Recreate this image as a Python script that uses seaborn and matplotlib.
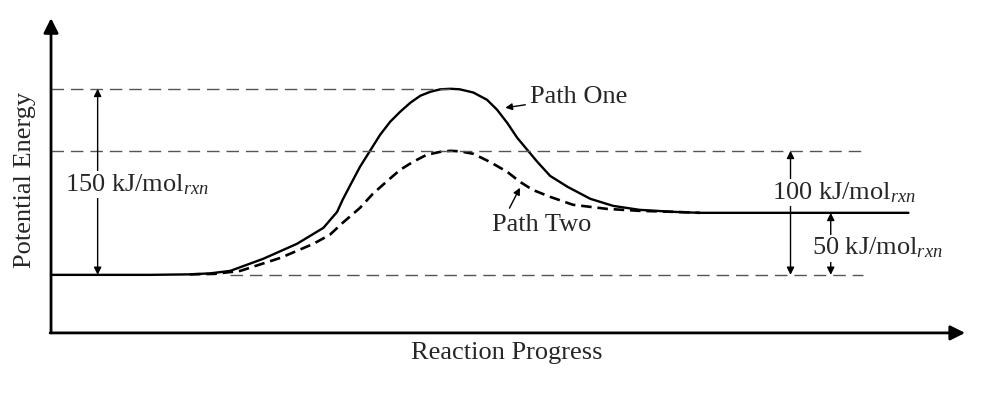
import numpy as np
import pandas as pd
import matplotlib
matplotlib.use("Agg")
import matplotlib.pyplot as plt
import seaborn as sns

#%%

# datos (x = progreso 0-100, y = kJ/mol)

path_one_x = [0, 10.8, 15.2, 17.4, 19.6, 23.2, 26.9, 29.8, 31.3, 31.9, 32.7, 33.8,
              34.9, 36.0, 37.1, 38.2, 39.3, 40.4, 41.5, 42.6, 43.7, 44.7, 46.2,
              47.7, 48.8, 49.9, 51.0, 52.1, 53.2, 54.6, 56.5, 59.0, 61.5, 64.4,
              68.1, 71.0, 93.8]
path_one_y = [0, 0, 0.4, 1.2, 3.2, 12.9, 25.0, 37.9, 50.8, 60.5, 71.8, 87.1,
              100.0, 112.9, 123.4, 131.5, 138.7, 144.4, 147.6, 149.6, 150, 149.6, 147.0,
              141.1, 133.1, 122.6, 110.5, 100.8, 91.1, 79.8, 71.0, 61.3, 55.6, 52.4,
              50.8, 50, 50]

path_two_x = [15.2, 17.9, 20.7, 25.1, 28.7, 30.5, 31.9, 33.8, 35.2, 36.8, 38.2,
              39.6, 41.1, 42.6, 43.7, 44.7, 46.2, 48.0, 49.9, 51.3, 52.7, 54.6,
              57.1, 60.8, 64.4, 68.1, 71.0]
path_two_y = [0.4, 0.8, 3.2, 13.7, 25.0, 32.3, 41.9, 54.0, 65.3, 75.8, 84.7,
              91.1, 96.8, 99.2, 100, 99.6, 97.6, 91.1, 83.1, 75.0, 68.5, 62.9,
              56.5, 53.2, 51.6, 50.8, 50]

niveles = [0, 50, 100, 150]   # reactivos, productos, pico 2, pico 1
etiquetas = ["150 kJ/mol$_{rxn}$", "100 kJ/mol$_{rxn}$", "50 kJ/mol$_{rxn}$"]

#%%

sns.set_style("white")
plt.rcParams['font.family'] = ['Liberation Serif', 'DejaVu Serif']
plt.rcParams['mathtext.fontset'] = 'custom'
plt.rcParams['mathtext.rm'] = 'Liberation Serif'
plt.rcParams['mathtext.it'] = 'Liberation Serif:italic'

fig = plt.figure(figsize=(9.85, 4.11), dpi=100)
ax = fig.add_axes([0.0518, 0.19, 0.928, 0.766])

df1 = pd.DataFrame({"x": path_one_x, "y": path_one_y})
df2 = pd.DataFrame({"x": path_two_x, "y": path_two_y})

sns.lineplot(data=df1, x="x", y="y", ax=ax, color="black", lw=1.7, sort=False,
             solid_joinstyle="round")
sns.lineplot(data=df2, x="x", y="y", ax=ax, color="black", lw=1.9, sort=False,
             linestyle=(0, (4, 2.2)), dash_joinstyle="round")

# lineas punteadas de referencia
gris = "#555555"
ax.plot([0, 43.7], [niveles[3], niveles[3]], color=gris, lw=1.0, ls=(0, (9, 5)))
ax.plot([0, 88.8], [niveles[2], niveles[2]], color=gris, lw=1.0, ls=(0, (9, 5)))
ax.plot([19.6, 88.8], [niveles[0], niveles[0]], color=gris, lw=1.0, ls=(0, (9, 5)))

# flechas de energia
flecha = dict(arrowstyle="<|-|>", color="black", lw=1.0, mutation_scale=11,
              shrinkA=0, shrinkB=0)
ax.annotate("", xy=(5.1, niveles[3]), xytext=(5.1, niveles[0]), arrowprops=flecha)
ax.annotate("", xy=(80.9, niveles[2]), xytext=(80.9, niveles[0]), arrowprops=flecha)
ax.annotate("", xy=(85.3, niveles[1]), xytext=(85.3, niveles[0]), arrowprops=flecha)

caja = dict(facecolor="white", edgecolor="none", pad=1)
ax.text(1.5, 72.6, etiquetas[0], fontsize=19, va="center", ha="left", bbox=caja)
ax.text(78.9, 66.5, etiquetas[1], fontsize=19, va="center", ha="left", bbox=caja)
ax.text(83.3, 21.5, etiquetas[2], fontsize=19, va="center", ha="left", bbox=caja)

# nombres de los caminos
ax.annotate("Path One", xy=(49.7, 134.7), xytext=(52.4, 143.5), fontsize=19,
            va="center", ha="left",
            arrowprops=dict(arrowstyle="-|>", color="black", lw=1.0,
                            mutation_scale=10, shrinkA=1, shrinkB=0))
ax.annotate("Path Two", xy=(51.3, 70.2), xytext=(48.2, 40.3), fontsize=19,
            va="center", ha="left",
            arrowprops=dict(arrowstyle="-|>", color="black", lw=1.0,
                            mutation_scale=10, shrinkA=2, shrinkB=0,
                            relpos=(0.15, 1.0)))

# ejes con flechas
ax.set_xlim(0, 100)
ax.set_ylim(-46.8, 207)
for s in ax.spines.values():
    s.set_visible(False)
ax.set_xticks([])
ax.set_yticks([])
ejes = dict(arrowstyle="-|>", color="black", lw=2.0, mutation_scale=22,
            shrinkA=0, shrinkB=0)
ax.annotate("", xy=(0, 1), xytext=(0, 0), xycoords="axes fraction",
            textcoords="axes fraction", arrowprops=ejes, annotation_clip=False)
ax.annotate("", xy=(1, 0), xytext=(-0.001, 0), xycoords="axes fraction",
            textcoords="axes fraction", arrowprops=ejes, annotation_clip=False)

ax.text(-0.028, 0.486, "Potential Energy", transform=ax.transAxes, rotation=90,
        fontsize=19, va="center", ha="center")
ax.text(0.499, -0.063, "Reaction Progress", transform=ax.transAxes,
        fontsize=19, va="center", ha="center")
ax.set_xlabel("")
ax.set_ylabel("")

fig.savefig("out.png", dpi=100)
